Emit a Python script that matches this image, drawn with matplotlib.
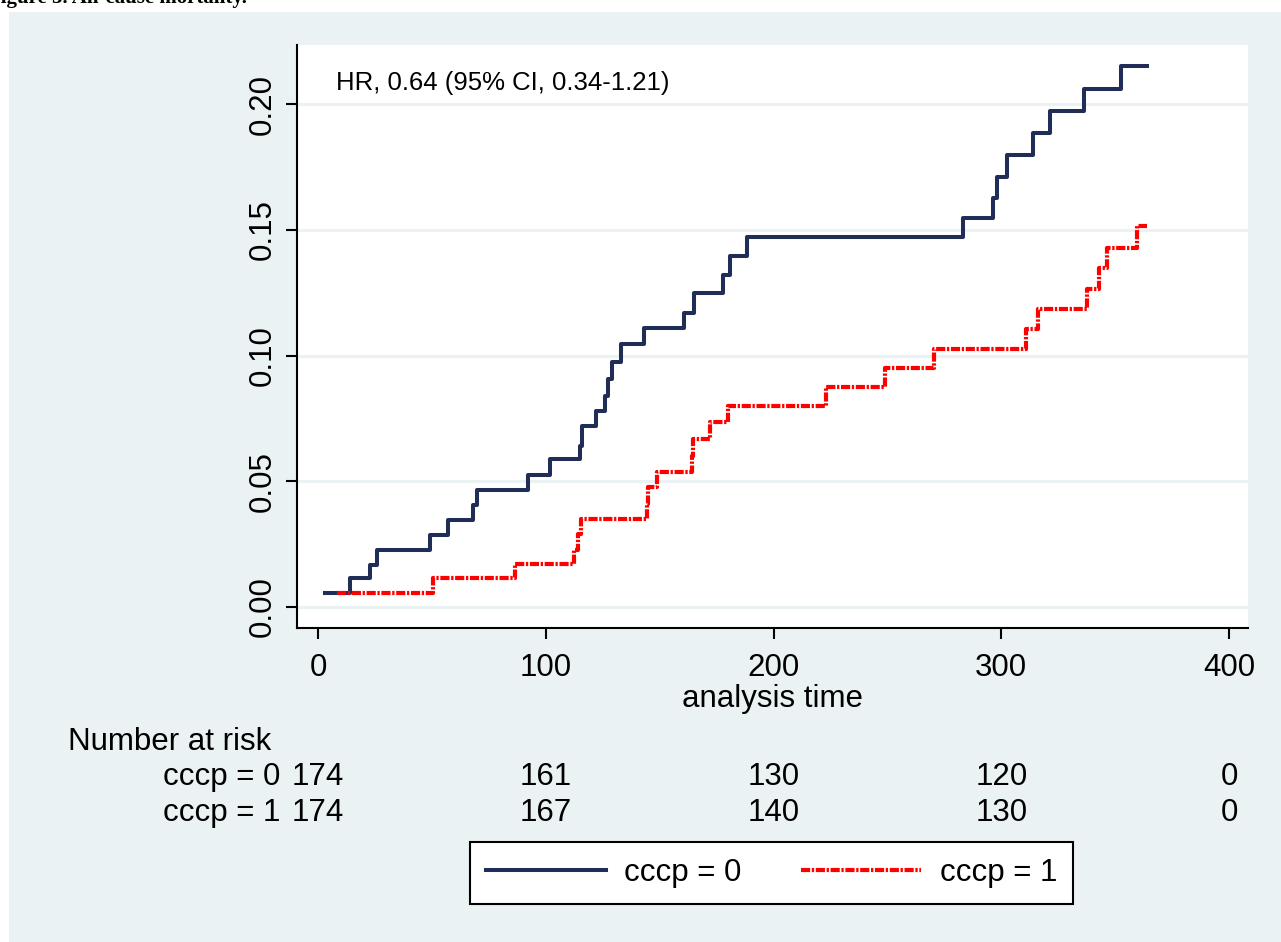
import numpy as np
import matplotlib
matplotlib.use('Agg')
import matplotlib.pyplot as plt
import matplotlib.transforms as mtransforms
from matplotlib.patches import Rectangle
from matplotlib.lines import Line2D

plt.rcParams['font.family'] = ['Liberation Sans', 'DejaVu Sans']

# Kaplan-Meier failure estimates (step times, cumulative failure)
t_cccp0 = [2, 14, 23, 26, 49, 57, 68, 70, 92, 102, 115, 116, 122, 126, 127.5, 129,
           133, 143, 160.5, 165, 178, 181, 188.5, 283, 296.5, 298, 302.5, 314,
           321.5, 336.5, 352.5, 365]
f_cccp0 = [0.0057, 0.0115, 0.0168, 0.0227, 0.0286, 0.0346, 0.0405, 0.0465, 0.0525,
           0.059, 0.064, 0.072, 0.078, 0.084, 0.0906, 0.0974, 0.1046, 0.111, 0.117,
           0.125, 0.132, 0.1396, 0.147, 0.1547, 0.1626, 0.171, 0.1797, 0.1885,
           0.1972, 0.206, 0.215, 0.215]

t_cccp1 = [8.5, 50.5, 86.5, 112.5, 114, 115.5, 144.3, 145, 149, 164, 164.5, 172,
           180, 223, 249, 270.6, 311, 316, 337.7, 343, 346.5, 359.6, 364]
f_cccp1 = [0.0057, 0.0115, 0.017, 0.0227, 0.029, 0.035, 0.041, 0.0477, 0.0537,
           0.060, 0.067, 0.0735, 0.080, 0.0875, 0.095, 0.1026, 0.1105, 0.1185,
           0.1264, 0.1348, 0.1427, 0.1515, 0.1515]

risk_times = [0, 100, 200, 300, 400]
risk_cccp0 = [174, 161, 130, 120, 0]
risk_cccp1 = [174, 167, 140, 130, 0]

x_ticks = [0, 100, 200, 300, 400]
y_ticks = [0.00, 0.05, 0.10, 0.15, 0.20]

hr_text = 'HR, 0.64 (95% CI, 0.34-1.21)'
group_labels = ['cccp = 0', 'cccp = 1']

navy = '#1f2d57'
red = '#ff0000'
bg = '#eaf2f3'
red_dash = (2.2, 0.4, 0.55, 0.4)
W, H = 1281, 942

fig = plt.figure(figsize=(W / 100, H / 100), dpi=100, facecolor='white')
# stata-style graph region
fig.patches.append(Rectangle((9 / W, 0), 1 - 9 / W, 1 - 12 / H, transform=fig.transFigure,
                             facecolor=bg, edgecolor='none', zorder=-5))
# caption of the page, cut at the top edge as in the source
fig.text(-12 / W, 1 - 3 / H, 'Figure 3. All-cause mortality.', family='Liberation Serif',
         fontsize=15, fontweight='bold', ha='left', va='baseline')

ax = fig.add_axes([297 / W, 1 - 628 / H, (1248 - 297) / W, (628 - 45) / H])
ax.set_facecolor('white')

ax.step(t_cccp0, f_cccp0, where='post', color=navy, lw=2.9, solid_capstyle='butt', zorder=3)
ax.step(t_cccp1, f_cccp1, where='post', color=red, lw=3.0, dashes=red_dash, zorder=3)

ax.set_xlim(-9.2, 408.3)
ax.set_ylim(-0.00835, 0.2235)
ax.set_xticks(x_ticks)
ax.set_yticks(y_ticks)
ax.set_yticklabels(['%.2f' % v for v in y_ticks], rotation=90, va='center')
ax.grid(axis='y', color=bg, lw=2.2, zorder=0)
ax.tick_params(axis='both', labelsize=22.5, width=1.5, length=8, color='black')
ax.tick_params(axis='x', pad=10)
ax.tick_params(axis='y', pad=6)
for s in ['top', 'right']:
    ax.spines[s].set_visible(False)
for s in ['left', 'bottom']:
    ax.spines[s].set_linewidth(1.5)

ax.set_xlabel('analysis time', fontsize=22.5)
ax.xaxis.set_label_coords(0.5, (628 - 699) / (628 - 45))
ax.xaxis.label.set_va('center')

ax.text((336 - 297) / (1248 - 297), (628 - 83) / (628 - 45), hr_text, transform=ax.transAxes,
        fontsize=18.5, ha='left', va='center')

# number at risk table
tr = mtransforms.blended_transform_factory(ax.transData, fig.transFigure)
fig.text(68 / W, 1 - 742 / H, 'Number at risk', fontsize=22.5, ha='left', va='center')
for lab, row, yp in zip(group_labels, [risk_cccp0, risk_cccp1], [777, 813]):
    fig.text(280 / W, 1 - yp / H, lab, fontsize=22.5, ha='right', va='center')
    for t, n in zip(risk_times, row):
        ax.text(t, 1 - yp / H, str(n), transform=tr, fontsize=22.5, ha='center', va='center',
                clip_on=False)

handles = [Line2D([], [], color=navy, lw=2.9),
           Line2D([], [], color=red, lw=3.0, dashes=red_dash)]
leg = fig.legend(handles, group_labels, loc='center', ncol=2,
                 bbox_to_anchor=(771.5 / W, 1 - 873 / H), fontsize=22.5,
                 frameon=True, fancybox=False, edgecolor='black', framealpha=1,
                 handlelength=3.84, handletextpad=0.6, columnspacing=1.9,
                 borderpad=0.5)
leg.get_frame().set_linewidth(1.5)

fig.savefig('out.png', dpi=100, facecolor='white')
